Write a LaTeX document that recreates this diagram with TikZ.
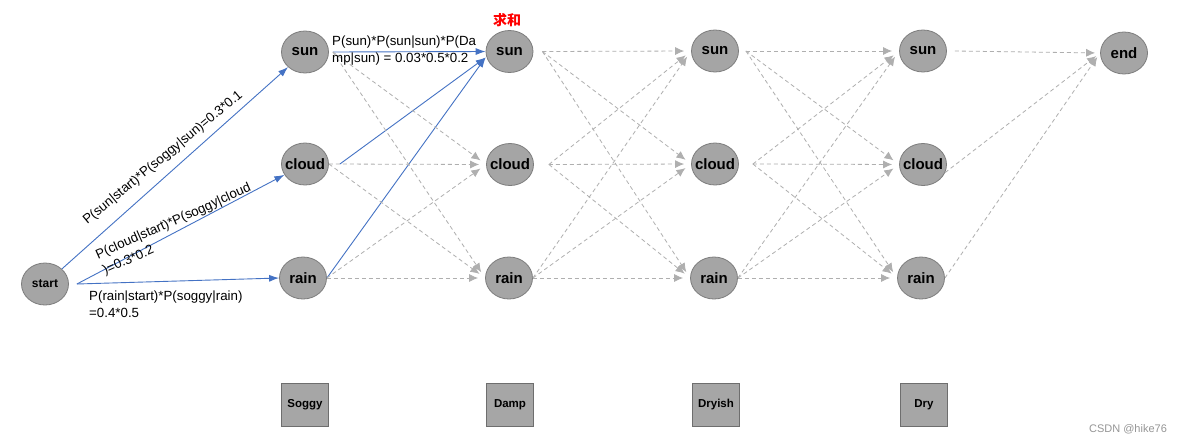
\documentclass[tikz,border=0pt]{standalone}
\usepackage{fontspec}
\setmainfont{Liberation Sans}
\newfontfamily\cjk{Noto Sans CJK SC}
\usetikzlibrary{shapes.geometric, arrows.meta}
\definecolor{nodefill}{RGB}{165,165,165}
\definecolor{nodeline}{RGB}{125,125,125}
\definecolor{boxfill}{RGB}{166,166,166}
\definecolor{boxline}{RGB}{110,110,110}
\definecolor{eblue}{RGB}{68,114,196}
\definecolor{egray}{RGB}{175,175,175}
\definecolor{wmgray}{RGB}{150,150,150}
\begin{document}
\begin{tikzpicture}[x=1pt,y=-1pt,
 hnode/.style={ellipse, draw=nodeline, fill=nodefill, line width=0.8pt, minimum width=47pt, minimum height=42pt, inner sep=0pt, font=\fontsize{15}{18}\selectfont\bfseries},
 obsbox/.style={rectangle, draw=boxline, fill=boxfill, line width=0.8pt, minimum width=47pt, minimum height=43pt, inner sep=0pt, font=\fontsize{11.5}{14}\selectfont\bfseries},
 bedge/.style={draw=eblue, line width=0.9pt, -{Latex[length=10pt,width=7pt]}},
 gedge/.style={draw=egray, line width=0.8pt, dash pattern=on 4pt off 3pt, -{Latex[length=9pt,width=8pt]}, shorten >=7pt},
 lbl/.style={inner sep=0pt, font=\fontsize{13.3}{17}\selectfont, align=left}]
\fill[white] (0,0) rectangle (1182,445);
\useasboundingbox (0,0) rectangle (1182,445);

% nodes
\node[hnode, font=\fontsize{12}{14}\selectfont\bfseries] (st) at (45,284) {\makebox[0pt]{start}};
\node[hnode] (s1) at (305,52) {\makebox[0pt]{sun}};
\node[hnode] (c1) at (305,164) {\makebox[0pt]{cloud}};
\node[hnode] (r1) at (303,278) {\makebox[0pt]{rain}};
\node[hnode] (s2) at (509.5,51.5) {\makebox[0pt]{sun}};
\node[hnode] (c2) at (510,164.5) {\makebox[0pt]{cloud}};
\node[hnode] (r2) at (509,278) {\makebox[0pt]{rain}};
\node[hnode] (s3) at (715,51) {\makebox[0pt]{sun}};
\node[hnode] (c3) at (715,164) {\makebox[0pt]{cloud}};
\node[hnode] (r3) at (714,278) {\makebox[0pt]{rain}};
\node[hnode] (s4) at (923,51) {\makebox[0pt]{sun}};
\node[hnode] (c4) at (923,164.5) {\makebox[0pt]{cloud}};
\node[hnode] (r4) at (921,278) {\makebox[0pt]{rain}};
\node[hnode] (en) at (1124,53) {\makebox[0pt]{end}};

% observation boxes
\node[obsbox] (o1) at (305,405) {Soggy};
\node[obsbox] (o2) at (510,405) {Damp};
\node[obsbox] (o3) at (716,405) {Dryish};
\node[obsbox] (o4) at (924,405) {Dry};

% blue edges
\draw[bedge] (st) -- (s1);
\draw[bedge] ([xshift=8pt]st.east) -- (c1);
\draw[bedge] ([xshift=8pt]st.east) -- (r1.west);
\draw[bedge] ([xshift=4pt]s1.east) -- (s2.west);
\draw[bedge] ([xshift=11pt]c1.east) -- ([yshift=-6pt]s2.west);
\draw[bedge] (r1.east) -- ([yshift=-6pt]s2.west);

% dashed Soggy -> Damp
\draw[gedge] ([xshift=4pt]s1.east) -- (c2.west);
\draw[gedge] ([xshift=4pt]s1.east) -- (r2.west);
\draw[gedge] (c1.east) -- (c2.west);
\draw[gedge] (c1.east) -- (r2.west);
\draw[gedge] (r1.east) -- (c2.west);
\draw[gedge] (r1.east) -- (r2.west);

% dashed Damp -> Dryish
\foreach \a/\sh in {s2/9pt, c2/15pt, r2/0pt}{
  \foreach \b in {s3, c3, r3}{
    \draw[gedge] ([xshift=\sh]\a.east) -- (\b.west);
  }
}
% dashed Dryish -> Dry
\foreach \a/\sh in {s3/7pt, c3/14pt, r3/0pt}{
  \foreach \b in {s4, c4, r4}{
    \draw[gedge] ([xshift=\sh]\a.east) -- (\b.west);
  }
}
% dashed Dry -> end
\draw[gedge, shorten >=5pt] ([xshift=8pt]s4.east) -- (en.west);
\draw[gedge, shorten >=5pt] (c4.-20) -- (en.west);
\draw[gedge, shorten >=5pt] (r4.east) -- (en.west);

% labels
\node[lbl, rotate=39.5] (l1) at (163,158) {P(sun|start)*P(soggy|sun)=0.3*0.1};
\node[lbl, rotate=24, anchor=west] (l2) at (100,264) {P(cloud|start)*P(soggy|cloud\\)=0.3*0.2};
\node[lbl, anchor=west] (l3) at (89,304) {P(rain|start)*P(soggy|rain)\\=0.4*0.5};
\node[lbl, anchor=west] (l4) at (332,51) {P(sun)*P(sun|sun)*P(Da\\mp|sun) = 0.03*0.5*0.2};
\node[text=red, font=\cjk\bfseries\fontsize{14}{16}\selectfont, inner sep=0pt] (sum) at (507,20) {求和};
\node[text=wmgray, font=\fontsize{11}{13}\selectfont, inner sep=0pt] (wm) at (1128,429) {CSDN @hike76};
\end{tikzpicture}
\end{document}
